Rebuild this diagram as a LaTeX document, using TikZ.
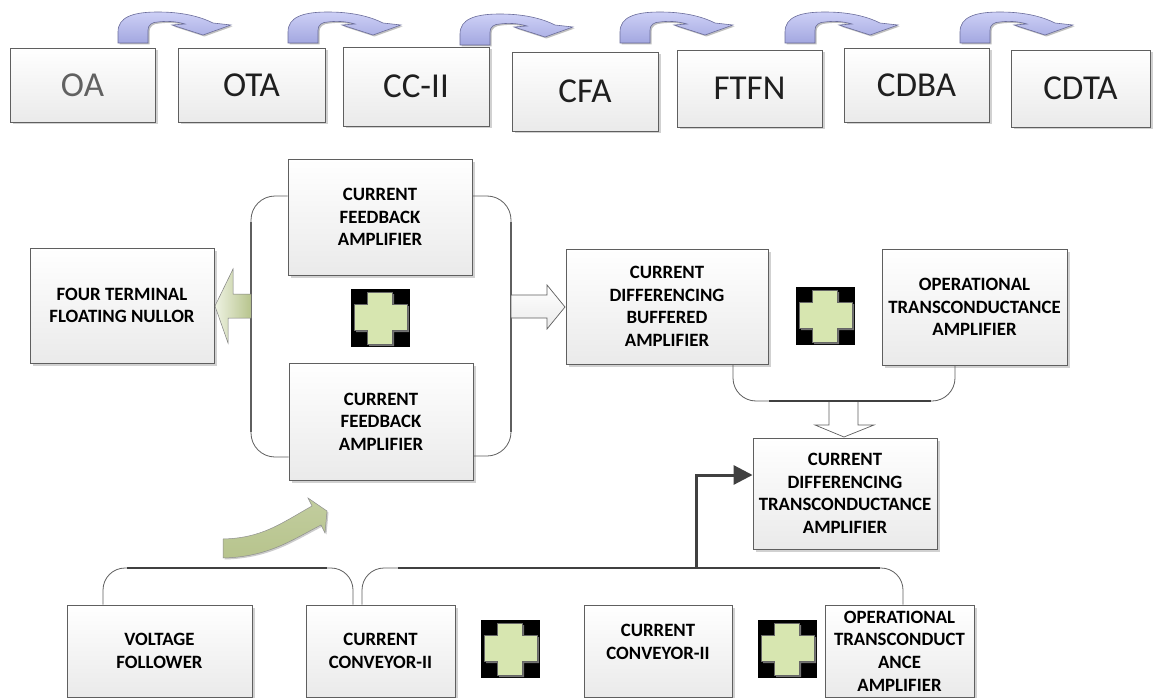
\documentclass[tikz,border=0pt]{standalone}
\usepackage{fontspec}
\setmainfont{Carlito}
\usetikzlibrary{shadows,arrows.meta}
\definecolor{edgegray}{HTML}{5F5F5F}
\definecolor{boxbot}{HTML}{EAEAEA}
\definecolor{lav}{HTML}{CDD0F6}
\definecolor{lavdark}{HTML}{A3A7E0}
\definecolor{lavedge}{HTML}{6A6C9A}
\definecolor{crossgreen}{HTML}{D7E6B0}
\definecolor{olivelight}{HTML}{EEF2E2}
\definecolor{olivedark}{HTML}{B7C48D}
\definecolor{thickline}{HTML}{404040}
\tikzset{
  box/.style={draw=edgegray, line width=0.9pt, top color=white, bottom color=boxbot,
    drop shadow={shadow xshift=2.5pt, shadow yshift=-2.5pt, fill=black, opacity=0.18},
    inner sep=0pt, align=center, font=\bfseries\fontsize{18.8}{22.6}\selectfont, text=black},
  tbox/.style={box, font=\fontsize{35}{40}\selectfont, text=black!88},
  boxtext/.style={align=center, font=\bfseries\fontsize{18.8}{22.6}\selectfont, text=black},
  conn/.style={draw=edgegray, line width=0.8pt},
  heavy/.style={draw=thickline, line width=2.6pt},
  uarrow/.style={draw=lavedge, line width=0.6pt, top color=lav, bottom color=lavdark,
    drop shadow={shadow xshift=1.5pt, shadow yshift=-1.5pt, fill=black, opacity=0.25}},
}
\newcommand\uturnarrow[2]{%
  \begin{scope}[shift={(#1,#2)}]
    \path[uarrow] (0,0) -- (0,-11) .. controls (0,-26) and (15,-31) .. (40,-31)
      .. controls (68,-31) and (85,-25) .. (95,-20) -- (113,-18) -- (85,-8) -- (54,-18)
      -- (67,-19) .. controls (57,-22) and (47,-22) .. (40,-21)
      .. controls (34,-21) and (30,-18) .. (30,-13) -- (30,0) -- cycle;
  \end{scope}}
\newcommand\crosspath{(16,3) -- (41,3) -- (41,15) -- (56,15) -- (56,41) -- (41,41) -- (41,55) -- (16,55) -- (16,41) -- (3,41) -- (3,15) -- (16,15) -- cycle}
\newcommand\plusmark[2]{%
  \begin{scope}[shift={(#1,#2)}]
    \fill[black] (0,0) rectangle (59,58);
    \fill[black!55] [shift={(2,2)}] \crosspath;
    \filldraw[fill=crossgreen, draw=black!60, line width=0.4pt] \crosspath;
  \end{scope}}
\begin{document}
\begin{tikzpicture}[x=1pt, y=-1pt]
\useasboundingbox (0,0) rectangle (1156,698);
\fill[white] (0,0) rectangle (1156,698);

% ---------- top row ----------
\node[tbox, text=black!62, minimum width=145pt, minimum height=74pt] (toa) at (82.5,85) {OA};
\node[tbox, minimum width=147pt, minimum height=74pt] (tota) at (251.5,85) {OTA};
\node[tbox, minimum width=146pt, minimum height=79pt] (tcc) at (416,86.5) {CC-II};
\node[tbox, minimum width=146pt, minimum height=79pt] (tcfa) at (585,91.5) {CFA};
\node[tbox, minimum width=145pt, minimum height=77pt] (tftfn) at (749.5,88.5) {FTFN};
\node[tbox, minimum width=145pt, minimum height=74pt] (tcdba) at (916.5,85) {CDBA};
\node[tbox, minimum width=139pt, minimum height=77pt] (tcdta) at (1080.5,88.5) {CDTA};

\uturnarrow{118}{43}
\uturnarrow{288}{43}
\uturnarrow{460}{45}
\uturnarrow{620}{43}
\uturnarrow{785}{43}
\uturnarrow{960}{43}

% ---------- middle ----------
\node[box, minimum width=184pt, minimum height=116pt] (cfa1) at (380,217) {CURRENT\\FEEDBACK\\AMPLIFIER};
\node[box, minimum width=184pt, minimum height=117pt] (cfa2) at (381,421.5) {CURRENT\\FEEDBACK\\AMPLIFIER};
\node[box, minimum width=184pt, minimum height=115pt] (ftfn) at (122,305.5) {FOUR TERMINAL\\FLOATING NULLOR};
\node[box, minimum width=202pt, minimum height=115pt] (cdba) at (667,306.5) {CURRENT\\DIFFERENCING\\BUFFERED\\AMPLIFIER};
\node[box, minimum width=185pt, minimum height=116pt] (ota) at (974.5,307) {OPERATIONAL\\TRANSCONDUCTANCE\\AMPLIFIER};
\node[box, minimum width=184pt, minimum height=111pt] (cdta) at (845,493.5) {CURRENT\\DIFFERENCING\\TRANSCONDUCTANCE\\AMPLIFIER};

\plusmark{351}{289}
\plusmark{796}{287}

% brackets around the two CFAs
\draw[conn, rounded corners=24pt] ([yshift=21pt]cfa1.west) -- (251,196) -- (251,457) -- ([yshift=-35.5pt]cfa2.west);
\draw[conn, rounded corners=24pt] ([yshift=21pt]cfa1.east) -- (511,196) -- (511,456) -- ([yshift=-34.5pt]cfa2.east);
\draw[draw=edgegray, line width=1.3pt] (251,222) -- (251,432);
\draw[draw=edgegray, line width=1.3pt] (511,222) -- (511,432);

% green arrow to FTFN
\path[draw=edgegray!80, line width=0.5pt, left color=olivelight, right color=olivedark]
  (251,294) -- (233,294) -- (233,269) -- (215,306) -- (228,343) -- (228,318) -- (251,318) -- cycle;
% hollow arrow to CDBA
\path[draw=edgegray, line width=0.7pt, top color=white, bottom color=black!8]
  (511,295) -- (547,295) -- (547,285) -- (565,307) -- (547,329) -- (547,318) -- (511,318) -- cycle;

% CDBA + OTA bracket and down arrow
\path[draw=edgegray, line width=0.7pt, fill=white]
  (829,401) -- (829,425) -- (815,425) -- (844,437) -- (874,425) -- (858,425) -- (858,401);
\draw[conn, rounded corners=23pt] ([xshift=66pt]cdba.south) -- (733,401) -- (955,401) -- ([xshift=-19.5pt]ota.south);
\draw[heavy, line width=2.2pt] (769,401) -- (931,401);

% ---------- bottom ----------
\node[box, minimum width=185pt, minimum height=92pt] (vf) at (159.5,651) {VOLTAGE\\FOLLOWER};
\node[box, minimum width=149pt, minimum height=92pt] (cc2a) at (380.5,651) {CURRENT\\CONVEYOR-II};
\node[box, minimum width=148pt, minimum height=92pt] (cc2b) at (658,651) {};
\node[boxtext] (cc2btext) at (658,642) {CURRENT\\CONVEYOR-II};
\node[box, minimum width=149pt, minimum height=92pt] (ota2) at (899.5,651) {OPERATIONAL\\TRANSCONDUCT\\ANCE\\AMPLIFIER};

\plusmark{481}{620}
\plusmark{758}{620}

\draw[conn, rounded corners=22pt] ([xshift=-56.5pt]vf.north) -- (103,568) -- (353,568) -- ([xshift=-27.5pt]cc2a.north);
\draw[heavy, line width=2.2pt] (127,568) -- (327,568);
\draw[conn, rounded corners=22pt] ([xshift=-18.5pt]cc2a.north) -- (362,568) -- (903,568) -- ([xshift=3.5pt]ota2.north);
\draw[heavy, line width=2.2pt] (398,568) -- (880,568);

\coordinate (jn) at (696,568);
\draw[heavy, line width=3pt, -{Triangle[length=19pt,width=19pt]}] (jn) |- ([yshift=18.5pt]cdta.west);

% green curved arrow from the bottom row to the CFA block
\path[draw=edgegray!70, line width=0.5pt, top color=olivedark!85, bottom color=olivedark,
      drop shadow={shadow xshift=1.5pt, shadow yshift=-1.5pt, fill=black, opacity=0.2}]
  (223,539) .. controls (262,538) and (280,524) .. (312,506) -- (308,498) -- (327,511)
  -- (325,533) -- (321,525) .. controls (292,540) and (268,557) .. (223,558) -- cycle;
\end{tikzpicture}
\end{document}
